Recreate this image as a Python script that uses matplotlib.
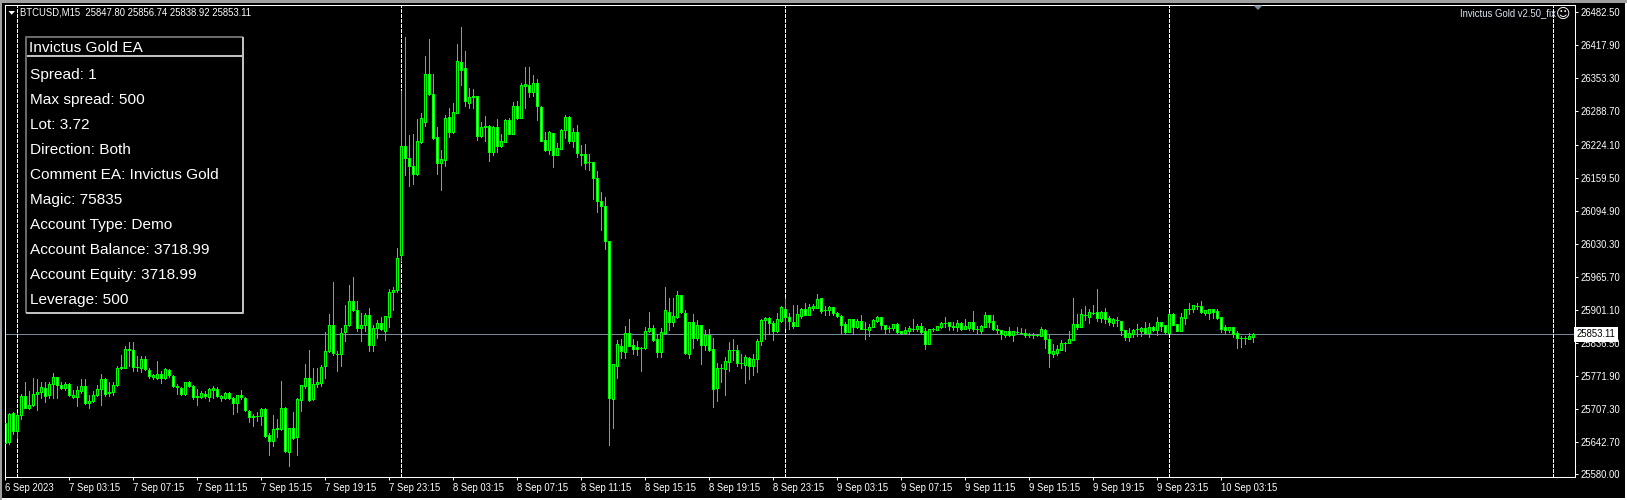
import matplotlib
matplotlib.use('Agg')
import matplotlib.pyplot as plt
from matplotlib.patches import Rectangle, Polygon

# BTCUSD M15 candles
opens = [
    25680,25642,25700,25664,25696,25732,25709,25715,25736,25740,
    25748,25734,25756,25770,25754,25748,25757,25731,25730,25742,
    25752,25719,25722,25734,25747,25766,25739,25740,25754,25787,
    25788,25822,25822,25789,25787,25805,25784,25769,25767,25776,
    25767,25784,25771,25750,25749,25736,25760,25753,25730,25731,
    25737,25731,25745,25747,25729,25728,25738,25729,25719,25734,
    25729,25704,25691,25693,25693,25707,25657,25644,25668,25669,
    25709,25623,25670,25652,25724,25753,25768,25726,25756,25758,
    25791,25820,25872,25815,25814,25857,25871,25919,25901,25865,
    25871,25891,25833,25865,25875,25859,25888,25935,25940,26009,
    26222,26198,26183,26167,26230,26269,26362,26323,26239,26188,
    26194,26278,26249,26286,26386,26374,26306,26316,26319,26241,
    26261,26261,26210,26259,26222,26230,26272,26245,26300,26276,
    26339,26341,26327,26345,26298,26233,26214,26247,26204,26216,
    26253,26278,26231,26249,26206,26206,26190,26190,26159,26114,
    26104,26036,25727,25792,25831,25819,25856,25833,25829,25827,
    25827,25860,25866,25845,25819,25856,25897,25878,25888,25931,
    25895,25815,25878,25847,25872,25833,25852,25825,25749,25788,
    25786,25800,25823,25823,25798,25794,25807,25792,25805,25841,
    25882,25886,25876,25860,25880,25903,25888,25878,25870,25890,
    25903,25891,25905,25905,25925,25901,25901,25907,25895,25889,
    25874,25858,25884,25868,25880,25864,25862,25868,25880,25888,
    25872,25866,25866,25874,25860,25856,25860,25864,25864,25870,
    25860,25835,25864,25862,25868,25876,25878,25868,25868,25876,
    25864,25866,25878,25864,25860,25868,25891,25880,25864,25862,
    25852,25860,25852,25858,25856,25856,25852,25852,25852,25850,
    25862,25845,25815,25817,25823,25837,25837,25843,25874,25868,
    25891,25888,25895,25897,25886,25897,25886,25876,25882,25880,
    25862,25848,25854,25864,25860,25866,25856,25868,25862,25878,
    25872,25856,25893,25874,25860,25886,25903,25903,25909,25909,
    25895,25895,25903,25899,25888,25868,25862,25868,25856,25847,
    25847,25845,25847.80]
highs = [
    25685,25700,25702,25700,25736,25761,25742,25768,25765,25761,
    25761,25761,25778,25770,25761,25761,25758,25745,25753,25765,
    25766,25735,25742,25755,25775,25768,25761,25761,25791,25812,
    25830,25838,25838,25810,25810,25810,25788,25776,25801,25781,
    25788,25786,25773,25757,25750,25761,25763,25754,25747,25742,
    25742,25748,25752,25750,25735,25741,25740,25730,25735,25745,
    25730,25705,25698,25702,25709,25709,25661,25696,25687,25763,
    25711,25670,25701,25729,25755,25796,25823,25788,25788,25794,
    25858,25893,25955,25820,25866,25911,25950,25965,25919,25894,
    25895,25905,25872,25882,25888,25889,25942,25946,26022,26329,
    26435,26243,26245,26274,26286,26398,26431,26362,26259,26214,
    26282,26296,26306,26421,26454,26407,26335,26333,26319,26269,
    26280,26263,26261,26274,26245,26274,26276,26308,26310,26345,
    26376,26376,26360,26353,26300,26249,26251,26247,26228,26255,
    26282,26280,26257,26263,26224,26226,26206,26190,26173,26132,
    26122,26036,25796,25843,25845,25870,25884,25845,25841,25829,
    25868,25897,25872,25854,25866,25946,25925,25925,25938,25931,
    25901,25878,25893,25882,25872,25862,25864,25847,25798,25796,
    25809,25839,25845,25833,25815,25813,25809,25815,25845,25884,
    25888,25888,25880,25895,25909,25925,25895,25911,25911,25905,
    25915,25913,25913,25933,25925,25909,25909,25907,25897,25891,
    25878,25884,25884,25884,25891,25878,25874,25884,25890,25888,
    25872,25870,25874,25876,25860,25868,25870,25884,25874,25876,
    25866,25864,25866,25870,25878,25888,25878,25878,25882,25878,
    25884,25878,25899,25870,25872,25897,25891,25891,25872,25862,
    25860,25868,25860,25868,25866,25864,25856,25856,25854,25868,
    25864,25852,25835,25833,25843,25839,25860,25925,25893,25903,
    25909,25903,25911,25942,25899,25905,25890,25886,25888,25880,
    25862,25866,25864,25874,25868,25878,25876,25870,25888,25878,
    25872,25895,25895,25874,25895,25903,25915,25911,25915,25919,
    25901,25903,25903,25903,25888,25872,25868,25868,25860,25850,
    25850,25856,25856.74]
lows = [
    25636,25638,25659,25651,25688,25709,25707,25714,25705,25729,
    25721,25728,25729,25728,25747,25745,25732,25729,25713,25739,
    25718,25709,25721,25732,25716,25732,25732,25735,25753,25786,
    25787,25791,25781,25781,25779,25783,25768,25765,25765,25758,
    25765,25770,25750,25737,25735,25735,25750,25727,25716,25729,
    25729,25722,25729,25731,25722,25727,25726,25698,25701,25726,
    25703,25681,25675,25683,25677,25653,25618,25635,25653,25667,
    25623,25596,25649,25618,25704,25748,25722,25724,25750,25753,
    25768,25818,25812,25781,25791,25841,25870,25898,25860,25841,
    25860,25821,25820,25847,25862,25843,25867,25901,25936,25997,
    26165,26144,26147,26165,26228,26261,26321,26235,26167,26136,
    26183,26239,26247,26286,26341,26300,26296,26296,26233,26239,
    26231,26192,26204,26210,26220,26230,26245,26245,26274,26276,
    26296,26317,26319,26272,26231,26212,26206,26181,26204,26216,
    26237,26228,26220,26200,26185,26177,26175,26118,26093,26058,
    26020,25637,25671,25768,25806,25806,25831,25815,25813,25782,
    25825,25858,25841,25809,25809,25854,25862,25870,25886,25895,
    25815,25807,25827,25843,25796,25823,25821,25712,25722,25761,
    25735,25782,25804,25792,25788,25759,25766,25774,25780,25833,
    25845,25854,25843,25858,25878,25866,25864,25866,25870,25886,
    25891,25891,25901,25905,25895,25891,25891,25891,25888,25854,
    25854,25858,25854,25866,25864,25845,25850,25868,25878,25864,
    25856,25858,25862,25856,25854,25854,25854,25860,25860,25856,
    25825,25835,25860,25862,25866,25868,25862,25862,25860,25862,
    25864,25862,25860,25856,25856,25868,25868,25862,25856,25845,
    25848,25850,25841,25854,25854,25848,25848,25846,25850,25850,
    25827,25790,25809,25813,25823,25821,25837,25843,25864,25868,
    25882,25876,25893,25880,25878,25876,25872,25870,25870,25852,
    25843,25841,25848,25850,25850,25856,25848,25860,25852,25860,
    25854,25856,25872,25860,25860,25874,25893,25897,25903,25895,
    25891,25884,25886,25884,25858,25856,25858,25848,25827,25829,
    25835,25845,25838.92]
closes = [
    25640,25697,25664,25696,25732,25709,25715,25736,25740,25750,
    25732,25757,25770,25754,25748,25757,25734,25735,25745,25753,
    25720,25723,25735,25747,25766,25737,25741,25754,25788,25789,
    25825,25825,25789,25789,25805,25786,25771,25773,25776,25767,
    25786,25773,25752,25753,25736,25760,25752,25730,25732,25739,
    25732,25747,25748,25732,25732,25738,25728,25719,25734,25730,
    25705,25692,25694,25693,25707,25654,25644,25668,25670,25709,
    25625,25670,25651,25726,25754,25768,25724,25757,25760,25789,
    25821,25872,25817,25815,25856,25872,25919,25900,25865,25872,
    25891,25832,25866,25875,25864,25889,25936,25940,26003,26222,
    26198,26183,26167,26231,26276,26362,26323,26237,26188,26196,
    26276,26249,26288,26388,26370,26310,26316,26319,26241,26259,
    26259,26210,26259,26222,26231,26272,26245,26300,26276,26341,
    26343,26327,26345,26300,26231,26214,26249,26204,26218,26253,
    26278,26231,26249,26208,26204,26188,26190,26159,26114,26104,
    26036,25729,25796,25835,25821,25856,25831,25825,25825,25827,
    25860,25866,25843,25819,25858,25901,25878,25890,25931,25897,
    25817,25878,25847,25872,25833,25852,25823,25747,25788,25788,
    25802,25823,25823,25798,25798,25809,25792,25805,25841,25882,
    25886,25876,25860,25884,25907,25888,25880,25870,25893,25903,
    25891,25907,25909,25923,25899,25901,25907,25895,25889,25872,
    25858,25884,25868,25880,25864,25864,25868,25882,25888,25872,
    25864,25866,25874,25858,25856,25862,25866,25864,25870,25858,
    25835,25864,25864,25870,25876,25876,25870,25870,25876,25864,
    25870,25878,25864,25864,25870,25891,25878,25864,25862,25854,
    25860,25852,25860,25858,25856,25852,25852,25852,25852,25864,
    25845,25817,25821,25825,25837,25837,25845,25874,25868,25893,
    25891,25897,25895,25886,25897,25884,25878,25884,25882,25862,
    25848,25856,25862,25864,25866,25856,25868,25862,25878,25870,
    25858,25893,25872,25860,25888,25903,25903,25911,25909,25897,
    25901,25903,25897,25886,25864,25862,25868,25854,25847,25847,
    25847,25850,25853.11]

price_ticks = [26482.50, 26417.90, 26353.30, 26288.70, 26224.10, 26159.50, 26094.90, 26030.30,
               25965.70, 25901.10, 25836.50, 25771.90, 25707.30, 25642.70, 25580.00]
time_labels = ['6 Sep 2023',
               '7 Sep 03:15', '7 Sep 07:15', '7 Sep 11:15', '7 Sep 15:15', '7 Sep 19:15', '7 Sep 23:15',
               '8 Sep 03:15', '8 Sep 07:15', '8 Sep 11:15', '8 Sep 15:15', '8 Sep 19:15', '8 Sep 23:15',
               '9 Sep 03:15', '9 Sep 07:15', '9 Sep 11:15', '9 Sep 15:15', '9 Sep 19:15', '9 Sep 23:15',
               '10 Sep 03:15']
day_breaks = [3, 99, 195, 291, 387]
last_price = 25853.11
chart_title = 'BTCUSD,M15  25847.80 25856.74 25838.92 25853.11'
panel_title = 'Invictus Gold EA'
panel_rows = ['Spread: 1', 'Max spread: 500', 'Lot: 3.72', 'Direction: Both', 'Comment EA: Invictus Gold',
              'Magic: 75835', 'Account Type: Demo', 'Account Balance: 3718.99', 'Account Equity: 3718.99',
              'Leverage: 500']

W, H = 1627, 500
px = 0.72  # one pixel in points at dpi 100
small = 6.85
green = '#00ff00'
plt.rcParams['font.family'] = ['Liberation Sans', 'DejaVu Sans']

fig = plt.figure(figsize=(W / 100, H / 100), dpi=100, facecolor='white')

# window chrome behind the chart
bg = fig.add_axes([0, 0, 1, 1], zorder=-1)
bg.set_xlim(0, W)
bg.set_ylim(H, 0)
bg.axis('off')
bg.add_patch(Rectangle((0, 0), W, 2.5, fc='#a0a0a0', ec='none'))
bg.add_patch(Rectangle((0, 0), 2.5, H, fc='#a0a0a0', ec='none'))
bg.add_patch(Rectangle((2.5, 2.5), 1622.5, 495, fc='black', ec='none'))

left, right, top, bottom = 4.5, 1574.5, 4.5, 477
ax = fig.add_axes([left / W, 1 - bottom / H, (right - left) / W, (bottom - top) / H])
ax.set_facecolor('black')
ax.set_xlim((left - 5.0) / 4, (right - 5.0) / 4)
ax.set_ylim(26506.5 - 1.954 * bottom, 26506.5 - 1.954 * top)

# candles: wick, then body; bearish bodies are filled white
n = range(len(opens))
ax.vlines(n, lows, highs, color=green, lw=px, antialiased=False, zorder=2)
body_low = [min(o, c) for o, c in zip(opens, closes)]
body_h = [abs(c - o) for o, c in zip(opens, closes)]
fills = ['black' if c >= o else 'white' for o, c in zip(opens, closes)]
ax.bar(n, body_h, bottom=body_low, width=0.5, color=fills, edgecolor=green, linewidth=px,
       antialiased=False, zorder=3)

ax.axhline(last_price, color='#778899', lw=px, antialiased=False, zorder=1)
for d in day_breaks:
    ax.axvline(d, color='white', lw=px, linestyle=(0, (3, 2)), antialiased=False, zorder=1.5)

for s in ax.spines.values():
    s.set_color('white')
    s.set_linewidth(px)

ax.set_xticks(range(0, 16 * len(time_labels), 16))
ax.set_xticklabels(time_labels, ha='left', fontsize=small, color='white')
ax.set_yticks(price_ticks)
ax.set_yticklabels(['%.2f' % p for p in price_ticks], fontsize=small, color='white')
ax.yaxis.tick_right()
ax.tick_params(axis='x', length=2, width=px, color='white', pad=2.5)
ax.tick_params(axis='y', length=2, width=px, color='white', pad=2.5)

ax.text(1.0012, last_price, '%.2f' % last_price, transform=ax.get_yaxis_transform(), fontsize=small,
        color='black', va='center', ha='left', clip_on=False, zorder=6,
        bbox=dict(fc='white', ec='none', boxstyle='square,pad=0.25'))

# overlay in pixel coordinates for the EA panel and labels
ov = fig.add_axes([0, 0, 1, 1], zorder=5)
ov.set_xlim(0, W)
ov.set_ylim(H, 0)
ov.axis('off')
ov.patch.set_alpha(0)

ov.add_patch(Polygon([(8.5, 11), (15, 11), (11.7, 14.7)], fc='white', ec='none'))
ov.text(20.3, 12.6, chart_title, color='white', fontsize=small, va='center')
ov.text(1556, 13.5, 'Invictus Gold v2.50_fix', color='#dce8f5', fontsize=small, va='center', ha='right')
ov.text(1563, 14, '\u263a', color='white', fontsize=10, va='center', ha='center', family='DejaVu Sans')
ov.add_patch(Polygon([(1253.5, 5.5), (1262.5, 5.5), (1258, 10)], fc='#778899', ec='none'))

ov.plot([26.5, 26.5, 243.5], [313, 37, 37], color='#696969', lw=2 * px, solid_capstyle='butt')
ov.plot([243.5, 243.5, 26.5], [37, 313, 313], color='#c0c0c0', lw=2 * px, solid_capstyle='butt')
ov.plot([27, 243], [56, 56], color='#c0c0c0', lw=2 * px, solid_capstyle='butt')
ov.text(29.5, 48.5, panel_title, color='white', fontsize=11.1, va='center')
for k, row in enumerate(panel_rows):
    ov.text(30, 75 + 25 * k, row, color='white', fontsize=11.1, va='center')

fig.savefig('out.png', dpi=100, facecolor='white')
